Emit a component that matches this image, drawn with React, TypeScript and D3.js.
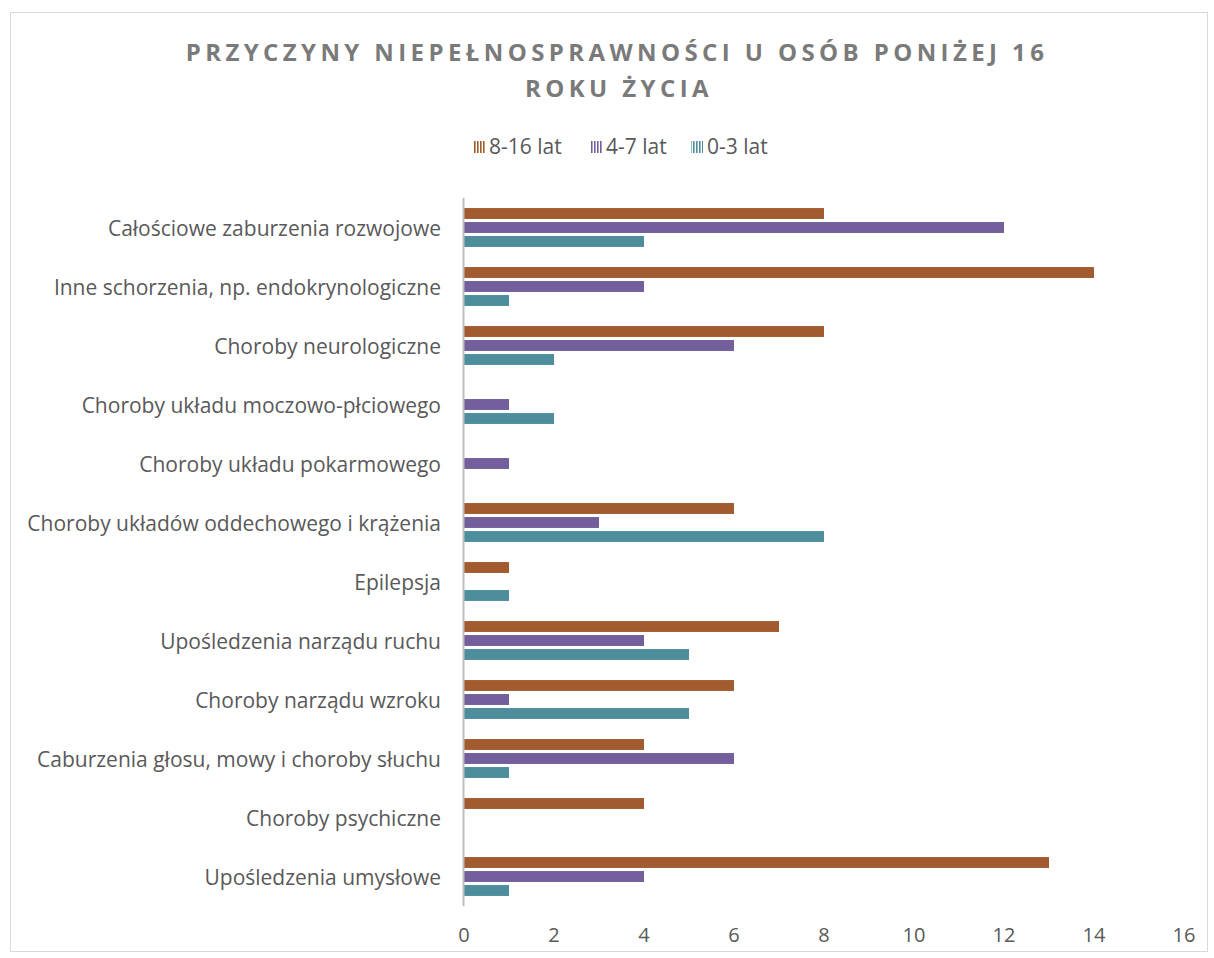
import React from "react";
import * as d3 from "d3";

const categories = [
  "Całościowe zaburzenia rozwojowe",
  "Inne schorzenia, np. endokrynologiczne",
  "Choroby neurologiczne",
  "Choroby układu moczowo-płciowego",
  "Choroby układu pokarmowego",
  "Choroby układów oddechowego i krążenia",
  "Epilepsja",
  "Upośledzenia narządu ruchu",
  "Choroby narządu wzroku",
  "Caburzenia głosu, mowy i choroby słuchu",
  "Choroby psychiczne",
  "Upośledzenia umysłowe",
];
const seriesNames = ["8-16 lat", "4-7 lat", "0-3 lat"];
const s816 = [8, 14, 8, 0, 0, 6, 1, 7, 6, 4, 4, 13];
const s47 = [12, 4, 6, 1, 1, 3, 0, 4, 1, 6, 0, 4];
const s03 = [4, 1, 2, 2, 0, 8, 1, 5, 5, 1, 0, 1];
const seriesValues = [s816, s47, s03];
const colors = ["#A15B2F", "#725F9B", "#4E8E9C"];
const xTicks = [0, 2, 4, 6, 8, 10, 12, 14, 16];

const W = 1214;
const H = 958;

export default function App() {
  const x = d3.scaleLinear().domain([0, 16]).range([464, 1184]);
  const y = d3.scaleBand<string>().domain(categories).range([198, 906]);
  const bw = y.bandwidth();
  const y1 = d3
    .scaleBand<string>()
    .domain(seriesNames)
    .range([bw / 2 - 21, bw / 2 + 21])
    .paddingInner(0.22)
    .paddingOuter(0.11);
  const font = "'Open Sans', 'DejaVu Sans', sans-serif";
  const textColor = "#595959";
  const legendX = [473, 590, 691];

  return (
    <svg
      width={W}
      height={H}
      viewBox={`0 0 ${W} ${H}`}
      style={{ position: "absolute", left: 0, top: 0, background: "#fff" }}
    >
      <defs>
        {colors.map((c, i) => (
          <pattern key={i} id={`stripe${i}`} width={3} height={4} patternUnits="userSpaceOnUse">
            <rect x={0} y={0} width={1.6} height={4} fill={c} />
          </pattern>
        ))}
      </defs>
      <rect x={10.5} y={12.5} width={1197} height={939} fill="#fff" stroke="#d9d9d9" strokeWidth={1} />
      <g fontFamily={font} fontWeight={700} fill="#7a7a7a" fontSize={24} textAnchor="middle" letterSpacing={4.4}>
        <text x={617} y={61}>PRZYCZYNY NIEPEŁNOSPRAWNOŚCI U OSÓB PONIŻEJ 16</text>
        <text x={619} y={97}>ROKU ŻYCIA</text>
      </g>
      <g fontFamily={font} fontSize={21} fill={textColor}>
        {seriesNames.map((s, i) => (
          <g key={s}>
            <rect x={legendX[i]} y={141} width={12} height={12} fill={`url(#stripe${i})`} />
            <text x={legendX[i] + 16} y={154}>{s}</text>
          </g>
        ))}
      </g>
      <g>
        {categories.map((c, ci) => (
          <g key={c} transform={`translate(0,${y(c)})`}>
            {seriesNames.map((s, si) => {
              const v = seriesValues[si][ci];
              if (!v) return null;
              return (
                <rect
                  key={s}
                  x={x(0)}
                  y={y1(s)}
                  width={x(v) - x(0)}
                  height={y1.bandwidth()}
                  fill={colors[si]}
                />
              );
            })}
          </g>
        ))}
      </g>
      <line x1={463.5} x2={463.5} y1={198} y2={906} stroke="#bfbfbf" strokeWidth={2} />
      <g fontFamily={font} fontSize={21} fill={textColor} textAnchor="end">
        {categories.map((c) => (
          <text key={c} x={441} y={(y(c) as number) + bw / 2 + 8}>
            {c}
          </text>
        ))}
      </g>
      <g fontFamily={font} fontSize={20} fill={textColor} textAnchor="middle">
        {xTicks.map((t) => (
          <text key={t} x={x(t)} y={942}>
            {t}
          </text>
        ))}
      </g>
    </svg>
  );
}
